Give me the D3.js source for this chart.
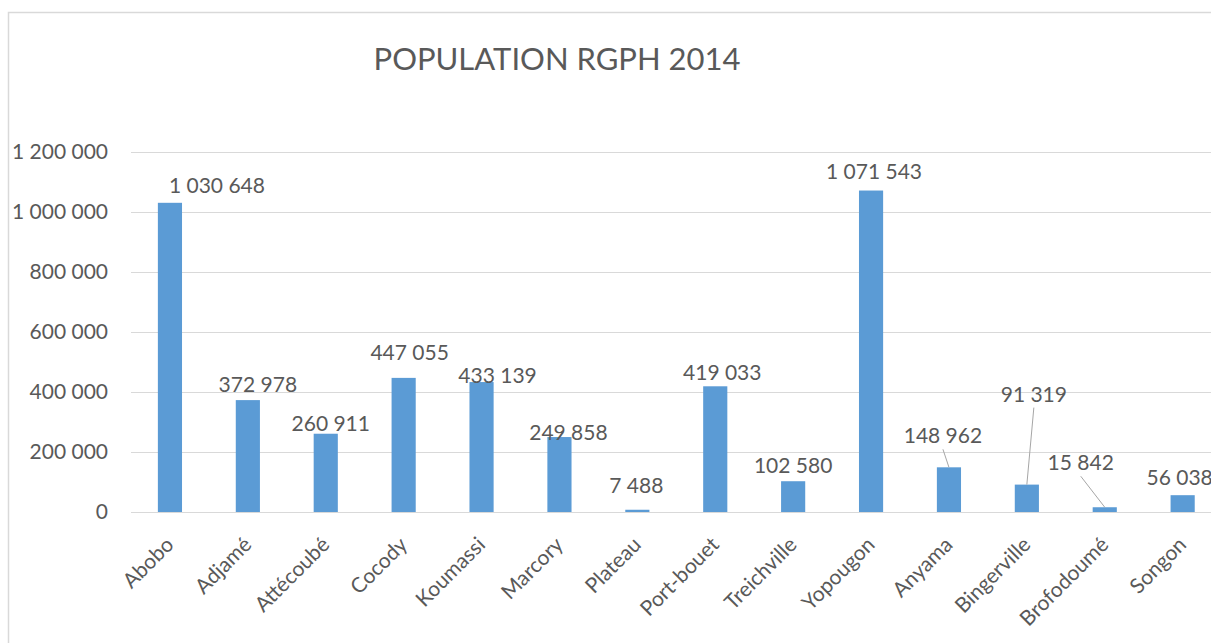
<!DOCTYPE html>
<html>
<head>
<meta charset="utf-8">
<script src="https://cdn.jsdelivr.net/npm/d3@7"></script>
<style>
  html, body { margin: 0; padding: 0; background: #ffffff; overflow: hidden; }
  svg { display: block; }
  text { font-family: Lato, "Open Sans", sans-serif; fill: #595959; }
</style>
</head>
<body>
<svg id="chart" width="1211" height="643"></svg>
<script>
// ---- data ----
const title = "POPULATION RGPH 2014";
const communes = ["Abobo", "Adjamé", "Attécoubé", "Cocody", "Koumassi", "Marcory", "Plateau",
                  "Port-bouet", "Treichville", "Yopougon", "Anyama", "Bingerville", "Brofodoumé", "Songon"];
const population = [1030648, 372978, 260911, 447055, 433139, 249858, 7488,
                    419033, 102580, 1071543, 148962, 91319, 15842, 56038];
const yTicks = [0, 200000, 400000, 600000, 800000, 1000000, 1200000];

// ---- layout of hand-moved data labels (pixel nudges from default spot, and leader lines) ----
const labelNudge = [[47, -10], [10, -8], [5, -3], [6, -18], [16, 1], [9, 3], [-1, -17],
                    [7, -6], [0, -8], [3, -12], [-6, -24], [7, -83], [-24, -37], [-3, -10]];
const hasLeader = [false, false, false, false, false, false, false,
                   false, false, false, true, true, true, false];

const svg = d3.select("#chart");
const fr = d3.formatLocale({ decimal: ",", thousands: " ", grouping: [3], currency: ["", ""] });
const fmt = fr.format(",d");

// chart frame
svg.append("rect")
  .attr("x", 8.5).attr("y", 12.5).attr("width", 1300).attr("height", 700)
  .attr("fill", "#ffffff").attr("stroke", "#d9d9d9").attr("stroke-width", 1.5);

const left = 131, step = 77.9;
const x = d3.scaleBand().domain(communes)
  .range([left, left + step * communes.length])
  .paddingInner(0.69).paddingOuter(0.345);
const y = d3.scaleLinear().domain([0, 1200000]).range([512, 152]);

// gridlines
svg.append("g")
  .attr("transform", `translate(${left},0)`)
  .call(d3.axisLeft(y).tickValues(yTicks).tickSize(-(step * communes.length)).tickFormat(""))
  .call(g => g.select(".domain").remove())
  .call(g => g.selectAll("line").attr("stroke", "#d9d9d9").attr("stroke-width", 1));

// y labels
svg.append("g")
  .attr("transform", `translate(${left},0)`)
  .call(d3.axisLeft(y).tickValues(yTicks).tickSize(0).tickPadding(23).tickFormat(fmt))
  .call(g => g.select(".domain").remove())
  .call(g => g.selectAll("text").style("font-size", "21px").attr("fill", "#595959")
                 .style("font-family", "Lato, sans-serif"));

// bars
svg.append("g").selectAll("rect").data(communes).join("rect")
  .attr("x", d => x(d))
  .attr("y", (d, i) => y(population[i]))
  .attr("width", x.bandwidth())
  .attr("height", (d, i) => y(0) - y(population[i]))
  .attr("fill", "#5b9bd5");

// x axis
svg.append("g")
  .attr("transform", `translate(0,${y(0)})`)
  .call(d3.axisBottom(x).tickSize(0))
  .call(g => g.select(".domain").attr("stroke", "#d9d9d9").attr("stroke-width", 1.2))
  .call(g => g.selectAll("text")
    .attr("x", 0).attr("y", 0).attr("dy", 0)
    .attr("transform", "translate(5,34) rotate(-45)")
    .attr("text-anchor", "end")
    .style("font-size", "21px").attr("fill", "#595959")
    .style("font-family", "Lato, sans-serif"));

// leader lines
const cx = d => x(d) + x.bandwidth() / 2;
svg.append("g").selectAll("line").data(communes.filter((d, i) => hasLeader[i])).join("line")
  .attr("x1", d => cx(d) + labelNudge[communes.indexOf(d)][0])
  .attr("y1", d => { const i = communes.indexOf(d); return y(population[i]) + labelNudge[i][1] + 6; })
  .attr("x2", d => cx(d))
  .attr("y2", d => y(population[communes.indexOf(d)]))
  .attr("stroke", "#a6a6a6").attr("stroke-width", 1);

// data labels
svg.append("g").selectAll("text").data(communes).join("text")
  .attr("x", (d, i) => cx(d) + labelNudge[i][0])
  .attr("y", (d, i) => y(population[i]) + labelNudge[i][1])
  .attr("text-anchor", "middle")
  .style("font-size", "21px")
  .text((d, i) => fmt(population[i]));

// title
svg.append("text")
  .attr("x", 557).attr("y", 70)
  .attr("text-anchor", "middle")
  .style("font-size", "31px")
  .text(title);
</script>
</body>
</html>
